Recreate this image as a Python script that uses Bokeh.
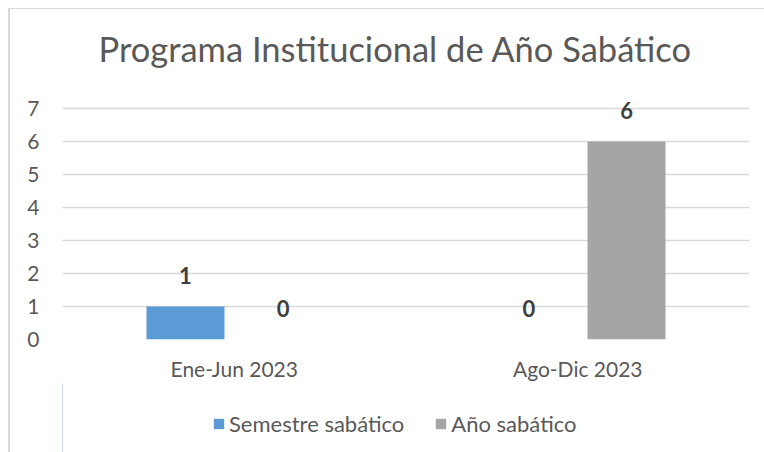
from bokeh.plotting import figure
from bokeh.layouts import column
from bokeh.models import FactorRange, Range1d, FixedTicker, Legend, LegendItem, LabelSet, ColumnDataSource
from bokeh.core.properties import value
from bokeh.transform import dodge
from bokeh.embed import file_html
from bokeh.resources import INLINE

categories = ["Ene-Jun 2023", "Ago-Dic 2023"]
semestre = [1, 0]
anio = [0, 6]
series_names = ["Semestre sabático", "Año sabático"]
series_colors = ["#5B9BD5", "#A5A5A5"]
y_ticks = [0, 1, 2, 3, 4, 5, 6, 7]

FONT = "Lato"
TXT = "#595959"

p = figure(width=754, height=373, frame_width=687, frame_height=255,
           x_range=FactorRange(*categories), y_range=Range1d(0, 7.727),
           output_backend="svg", toolbar_location=None,
           title="Programa Institucional de Año Sabático")
p.outline_line_color = None
p.min_border_left = 52
p.min_border_right = 15
p.min_border_top = 74
p.min_border_bottom = 44

p.title.align = "left"
p.title.offset = 36
p.title.text_font = FONT
p.title.text_font_size = "34.5px"
p.title.text_font_style = "normal"
p.title.text_color = TXT
p.title.standoff = 32

src = ColumnDataSource(dict(cat=categories, semestre=semestre, anio=anio,
                            ls=[str(v) for v in semestre], la=[str(v) for v in anio]))

p.vbar(x=dodge("cat", -0.142, range=p.x_range), top="semestre", width=0.227, source=src,
       fill_color=series_colors[0], line_color=None)
p.vbar(x=dodge("cat", 0.142, range=p.x_range), top="anio", width=0.227, source=src,
       fill_color=series_colors[1], line_color=None)

for col, lab, off in (("semestre", "ls", -0.142), ("anio", "la", 0.142)):
    ls = LabelSet(x=dodge("cat", off, range=p.x_range), y=col, text=lab, source=src,
                  text_align="center", text_baseline="middle", y_offset=31,
                  text_font=value(FONT), text_font_size=value("22px"), text_font_style="bold",
                  text_color="#404040")
    p.add_layout(ls)

p.xgrid.grid_line_color = None
p.ygrid.grid_line_color = "#D9D9D9"
p.ygrid.grid_line_width = 1.5

p.yaxis.ticker = FixedTicker(ticks=y_ticks)
p.yaxis.axis_line_color = None
p.yaxis.major_tick_line_color = None
p.yaxis.minor_tick_line_color = None
p.yaxis.major_tick_out = 0
p.yaxis.minor_tick_out = 0
p.yaxis.major_label_standoff = 23
p.yaxis.major_label_text_font = FONT
p.yaxis.major_label_text_font_size = "21px"
p.yaxis.major_label_text_color = TXT

p.xaxis.axis_line_color = None
p.xaxis.major_tick_line_color = None
p.xaxis.minor_tick_line_color = None
p.xaxis.major_tick_out = 0
p.xaxis.minor_tick_out = 0
p.xaxis.major_label_standoff = 16
p.xaxis.major_label_text_font = FONT
p.xaxis.major_label_text_font_size = "21px"
p.xaxis.major_label_text_color = TXT

# legend in its own strip below the chart
pl = figure(width=754, height=69, x_range=Range1d(0, 1), y_range=Range1d(0, 1),
            output_backend="svg", toolbar_location=None,
            x_axis_type=None, y_axis_type=None)
pl.outline_line_color = None
pl.min_border_left = 0
pl.min_border_right = 0
pl.min_border_top = 0
pl.min_border_bottom = 0
pl.xgrid.visible = False
pl.ygrid.visible = False
items = []
for name, color in zip(series_names, series_colors):
    # swatch-only renderer: its bar lies outside the strip's visible range
    rr = pl.vbar(x=[-10], top=[1], width=0.1, fill_color=color, line_color=None)
    items.append(LegendItem(label=name, renderers=[rr]))

legend = Legend(items=items, orientation="horizontal", location=(150, 15))
legend.label_text_font = FONT
legend.label_text_font_size = "22px"
legend.label_text_color = TXT
legend.glyph_width = 13
legend.glyph_height = 13
legend.label_standoff = 4
legend.spacing = 30
legend.border_line_color = None
legend.background_fill_alpha = 0
legend.margin = 0
legend.padding = 0
pl.add_layout(legend, "center")

layout = column(p, pl, spacing=0)
layout.styles = {"margin-top": "8px", "margin-left": "8px",
                 "border-top": "1px solid #D9D9D9", "border-left": "2px solid #D9D9D9"}

open("out.html", "w").write(file_html(layout, INLINE))
